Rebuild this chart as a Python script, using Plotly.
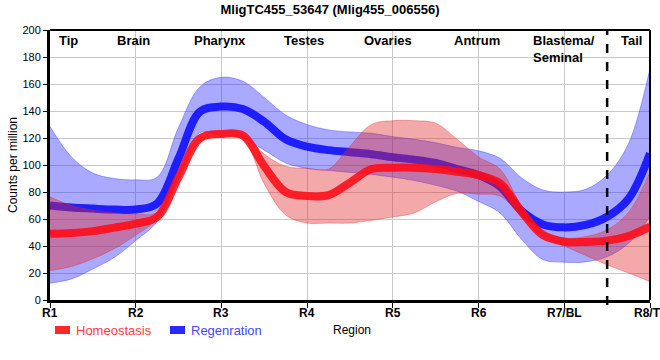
import plotly.graph_objects as go

# ---- data ----
positions = [0, 0.25, 0.5, 0.75, 1, 1.25, 1.5, 1.75, 2, 2.25, 2.5, 2.75, 3, 3.25, 3.5,
             3.75, 4, 4.25, 4.5, 4.75, 5, 5.25, 5.5, 5.75, 6, 6.25, 6.5, 6.75, 7]

regen_mean = [70, 68.5, 67.7, 67, 67, 71.5, 105, 139.5, 143.3, 141.5, 132, 119, 113.6, 111, 109.5,
              108, 105.7, 104, 101.5, 97, 92.5, 84, 66, 56, 53.8, 55.6, 61.7, 75, 108.6]
regen_upper = [128.5, 106, 94, 90, 89, 91, 128, 158, 165, 162, 150, 137, 130, 126, 124.5,
               123.5, 121, 119, 116.5, 113, 110.5, 105, 90.5, 81.5, 80, 82, 92.6, 116, 171.6]
regen_lower = [12.4, 15.6, 23, 31.5, 44, 58, 91, 124, 122, 120, 111, 101.5, 97.5, 96, 94.5,
               93, 91, 88.5, 85, 80.5, 73, 64.5, 45, 30, 28, 28.2, 32, 42, 61.7]

homeo_mean = [49, 49.6, 51, 53.6, 56.6, 61.5, 91, 119.8, 123, 121.8, 99, 80, 77, 77.7, 87,
              97, 98, 98, 97, 95, 92.5, 86.5, 65.5, 48, 43.2, 43, 44, 47.4, 54.3]
homeo_upper = [76.4, 70, 66.5, 64.5, 63.5, 65, 93, 122, 125, 123.5, 108, 99, 97.5, 97, 114,
               130, 132.8, 132.8, 131, 119, 106, 97, 70, 52, 46, 47, 52, 65, 95]
homeo_lower = [21.8, 24.8, 30.5, 38, 48, 60, 89, 117.5, 121, 119.5, 86, 63, 57, 57, 57,
               59, 61.5, 64.5, 72.7, 79, 78.4, 77, 62, 47, 40, 33, 26, 20, 13.6]

tick_labels = ["R1", "R2", "R3", "R4", "R5", "R6", "R7/BL", "R8/TL"]
tick_positions = [0, 1, 2, 3, 4, 5, 6, 7]
region_names = ["Tip", "Brain", "Pharynx", "Testes", "Ovaries", "Antrum", "Blastema/<br>Seminal", "Tail"]
region_label_x = [0.22, 0.97, 1.98, 2.96, 3.94, 4.98, 6.0, 6.78]
divider_x = 6.5

FONT = "Liberation Sans, Arial, sans-serif"
PW, PH = 600, 270  # plot area size in px

fig = go.Figure()

def band(lower, upper, fillcol, edgecol):
    fig.add_trace(go.Scatter(x=positions, y=lower, mode="lines",
                             line=dict(color=edgecol, width=0.8, shape="spline", smoothing=1.0),
                             hoverinfo="skip", showlegend=False))
    fig.add_trace(go.Scatter(x=positions, y=upper, mode="lines", fill="tonexty",
                             fillcolor=fillcol,
                             line=dict(color=edgecol, width=0.8, shape="spline", smoothing=1.0),
                             hoverinfo="skip", showlegend=False))

band(regen_lower, regen_upper, "rgba(40,40,255,0.40)", "rgba(40,40,255,0.45)")
fig.add_trace(go.Scatter(x=positions, y=regen_mean, mode="lines", name="Regenration",
                         line=dict(color="rgba(10,10,255,0.88)", width=8, shape="spline", smoothing=1.0),
                         showlegend=False))
band(homeo_lower, homeo_upper, "rgba(225,40,40,0.40)", "rgba(225,40,40,0.45)")
fig.add_trace(go.Scatter(x=positions, y=homeo_mean, mode="lines", name="Homeostasis",
                         line=dict(color="rgba(255,10,20,0.88)", width=8, shape="spline", smoothing=1.0),
                         showlegend=False))

shapes = [
    dict(type="line", xref="paper", yref="paper", x0=0, x1=1, y0=1, y1=1,
         line=dict(color="black", width=2)),
    dict(type="line", xref="paper", yref="paper", x0=1, x1=1, y0=0, y1=1,
         line=dict(color="black", width=2)),
    dict(type="line", xref="x", yref="paper", x0=divider_x, x1=divider_x, y0=-5/PH, y1=1,
         line=dict(color="black", width=2.5, dash="dash")),
    dict(type="rect", xref="paper", yref="paper", x0=5/PW, x1=20/PW, y0=-26/PH, y1=-34/PH,
         fillcolor="rgba(255,40,40,1)", line=dict(width=0)),
    dict(type="rect", xref="paper", yref="paper", x0=120/PW, x1=135/PW, y0=-26/PH, y1=-34/PH,
         fillcolor="rgba(40,40,255,1)", line=dict(width=0)),
]

annotations = []
for name, px in zip(region_names, region_label_x):
    annotations.append(dict(x=px, y=1, xref="x", yref="paper", text="<b>" + name + "</b>",
                            showarrow=False, xanchor="center", yanchor="top", yshift=-1,
                            align="left", font=dict(family=FONT, size=13, color="black")))
for lab, tp in zip(tick_labels, tick_positions):
    annotations.append(dict(x=tp, y=-12.5/PH, xref="x", yref="paper", text="<b>" + lab + "</b>",
                            showarrow=False, xanchor="center", yanchor="middle",
                            font=dict(family=FONT, size=12, color="black")))
annotations.append(dict(x=24/PW, y=-30/PH, xref="paper", yref="paper", text="Homeostasis",
                        showarrow=False, xanchor="left", yanchor="middle",
                        font=dict(family=FONT, size=13, color="rgb(255,60,60)")))
annotations.append(dict(x=139/PW, y=-30/PH, xref="paper", yref="paper", text="Regenration",
                        showarrow=False, xanchor="left", yanchor="middle",
                        font=dict(family=FONT, size=13, color="rgb(70,70,255)")))
annotations.append(dict(x=302/PW, y=-30/PH, xref="paper", yref="paper", text="Region",
                        showarrow=False, xanchor="center", yanchor="middle",
                        font=dict(family=FONT, size=12, color="black")))
annotations.append(dict(x=-37/PW, y=0.5, xref="paper", yref="paper", text="Counts per million",
                        showarrow=False, xanchor="center", yanchor="middle", textangle=-90,
                        font=dict(family=FONT, size=12, color="black")))

fig.update_layout(
    width=660, height=360,
    margin=dict(l=50, r=10, t=30, b=60, autoexpand=False),
    paper_bgcolor="white", plot_bgcolor="white",
    title=dict(text="<b>MligTC455_53647 (Mlig455_006556)</b>", x=0.5, xanchor="center",
               y=1 - 9/360, yanchor="middle", font=dict(family=FONT, size=13, color="black")),
    font=dict(family=FONT, size=11, color="black"),
    shapes=shapes, annotations=annotations, showlegend=False,
)
fig.update_xaxes(range=[0, 7], tickvals=tick_positions, showticklabels=False, automargin=False,
                 showgrid=True, gridcolor="#c8c8c8", gridwidth=1,
                 showline=True, linecolor="black", linewidth=3,
                 ticks="outside", ticklen=5, tickcolor="black", tickwidth=1, zeroline=False)
fig.update_yaxes(range=[0, 200], dtick=20, tickfont=dict(family=FONT, size=11, color="black"),
                 automargin=False,
                 showgrid=True, gridcolor="#c8c8c8", gridwidth=1,
                 showline=True, linecolor="black", linewidth=3,
                 ticks="outside", ticklen=4, tickcolor="black", tickwidth=1, zeroline=False)

fig.write_html("out.html", config={"displayModeBar": False},
               post_script="document.body.style.margin='0';")
